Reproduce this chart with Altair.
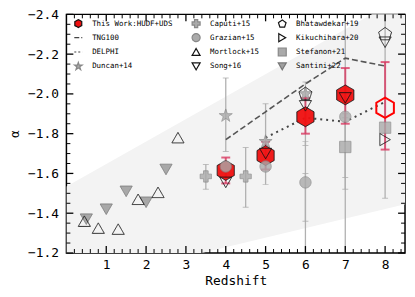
import altair as alt
import pandas as pd

W, H = 342, 241

X_DOMAIN = [0, 8.5]
Y_DOMAIN = [-2.4, -1.2]
X_MAJOR = [1, 2, 3, 4, 5, 6, 7, 8]
X_MINOR = [round(i * 0.2, 1) for i in range(1, 43) if i % 5 != 0]
Y_MAJOR = [-2.4, -2.2, -2.0, -1.8, -1.6, -1.4, -1.2]
Y_MINOR = [round(-2.4 + i * 0.05, 2) for i in range(1, 24) if i % 4 != 0]

# shaded model band (two straight edges)
band_z = [0.0, 8.5]
band_hi = [-1.534, -2.495]
band_lo = [-1.037, -1.445]

# model lines
tng_z = [4, 5, 6, 7, 8]
tng_a = [-1.77, -1.91, -2.05, -2.18, -2.14]
delphi_z = [5, 6, 7, 8]
delphi_a = [-1.78, -1.88, -1.86, -1.96]

# This work
tw_z = [4, 5, 6, 7]
tw_a = [-1.615, -1.69, -1.885, -1.995]
tw_lo = [-1.68, -1.76, -1.98, -2.13]
tw_hi = [-1.55, -1.62, -1.80, -1.85]
two_z = [8]
two_a = [-1.93]
two_lo = [-2.16]
two_hi = [-1.72]

# literature points
duncan_z = [4, 5, 6]
duncan_a = [-1.89, -1.76, -2.00]
caputi_z = [3.5, 4.5]
caputi_a = [-1.585, -1.585]
grazian_z = [4, 5, 6, 7]
grazian_a = [-1.635, -1.635, -1.555, -1.885]
mortlock_z = [0.45, 0.8, 1.3, 1.8, 2.3, 2.8]
mortlock_a = [-1.36, -1.325, -1.32, -1.47, -1.505, -1.78]
song_z = [4, 5, 6, 7, 8]
song_a = [-1.555, -1.70, -1.94, -1.98, -2.26]
bhat_z = [6, 8]
bhat_a = [-2.00, -2.30]
kiku_z = [8]
kiku_a = [-1.77]
stef_z = [7, 8]
stef_a = [-1.733, -1.83]
santini_z = [0.5, 1.0, 1.5, 2.0, 2.5]
santini_a = [-1.37, -1.42, -1.51, -1.455, -1.62]

# gray error bars (z, low, high)
gerr_z = [3.5, 4.0, 4.5, 5.0, 6.0, 6.0, 6.0, 7.0, 7.0, 7.0, 8.0]
gerr_lo = [-1.645, -2.08, -1.73, -1.95, -2.06, -1.76, -1.60, -2.60, -1.88, -1.90, -2.60]
gerr_hi = [-1.52, -1.71, -1.43, -1.545, -1.74, -1.36, -1.00, -1.00, -1.58, -1.52, -1.475]

HEX = "M0,-1L0.866,-0.5L0.866,0.5L0,1L-0.866,0.5L-0.866,-0.5Z"
PENT = "M0,-1L0.951,-0.309L0.588,0.809L-0.588,0.809L-0.951,-0.309Z"
STAR = ("M0,-1L0.2245,-0.309L0.951,-0.309L0.363,0.118L0.588,0.809L0,0.382"
        "L-0.588,0.809L-0.363,0.118L-0.951,-0.309L-0.2245,-0.309Z")

# legend entries, column by column
names = ["This Work:HUDF+UDS", "TNG100", "DELPHI", "Duncan+14",
         "Caputi+15", "Grazian+15", "Mortlock+15", "Song+16",
         "Bhatawdekar+19", "Kikuchihara+20", "Stefanon+21", "Santini+22"]
shapes = [HEX, "stroke", "stroke", STAR,
          "cross", "circle", "triangle-up", "triangle-down",
          PENT, "triangle-right", "square", "triangle-down"]
fills = ["#f01010", "transparent", "transparent", "#aaaaaa",
         "#aaaaaa", "#aaaaaa", "transparent", "transparent",
         "transparent", "transparent", "#aaaaaa", "#a0a0a0"]
strokes = ["#111111", "#444444", "#444444", "#888888",
           "#888888", "#888888", "#111111", "#111111",
           "#111111", "#111111", "#888888", "#777777"]
dashes = [[1, 0], [5, 2], [2, 2], [1, 0],
          [1, 0], [1, 0], [1, 0], [1, 0],
          [1, 0], [1, 0], [1, 0], [1, 0]]

MONO = "DejaVu Sans Mono"


def table(groups):
    rows = []
    for name, zs, als in groups:
        for z, a in zip(zs, als):
            rows.append({"series": name, "z": z, "a": a})
    return pd.DataFrame(rows)


xs = alt.Scale(domain=X_DOMAIN, nice=False, zero=False)
ys = alt.Scale(domain=Y_DOMAIN, reverse=True, nice=False, zero=False)


def X(f):
    return alt.X(f, scale=xs)


def Y(f):
    return alt.Y(f, scale=ys)


band_df = pd.DataFrame({"z": band_z, "hi": band_hi, "lo": band_lo})
band = alt.Chart(band_df).mark_area(color="#f3f3f3", clip=True).encode(
    x=alt.X("z:Q", scale=xs, axis=alt.Axis(values=X_MAJOR, format="d", ticks=False, domain=False,
                                           grid=False, labelPadding=6, title="Redshift", titlePadding=3)),
    y=alt.Y("hi:Q", scale=ys, axis=alt.Axis(values=Y_MAJOR, format=".1f", ticks=False, domain=False,
                                            grid=False, labelPadding=8, title="α", titlePadding=6)),
    y2="lo:Q",
)

gerr_df = pd.DataFrame({"z": gerr_z, "lo": gerr_lo, "hi": gerr_hi})
gbar = alt.Chart(gerr_df).mark_rule(color="#b0b0b0", strokeWidth=1.3, clip=True).encode(
    x=X("z:Q"), y=Y("lo:Q"), y2="hi:Q")
gcap_lo = alt.Chart(gerr_df).mark_tick(color="#a8a8a8", orient="horizontal", size=6, thickness=1, clip=True).encode(
    x=X("z:Q"), y=Y("lo:Q"))
gcap_hi = alt.Chart(gerr_df).mark_tick(color="#a8a8a8", orient="horizontal", size=6, thickness=1, clip=True).encode(
    x=X("z:Q"), y=Y("hi:Q"))

rerr_df = pd.DataFrame({"z": tw_z + two_z, "lo": tw_lo + two_lo, "hi": tw_hi + two_hi})
rbar = alt.Chart(rerr_df).mark_rule(color="#d83a62", strokeWidth=2, opacity=0.8).encode(
    x=X("z:Q"), y=Y("lo:Q"), y2="hi:Q")
rcap_lo = alt.Chart(rerr_df).mark_tick(color="#d83a62", orient="horizontal", size=9, thickness=2, opacity=0.8).encode(
    x=X("z:Q"), y=Y("lo:Q"))
rcap_hi = alt.Chart(rerr_df).mark_tick(color="#d83a62", orient="horizontal", size=9, thickness=2, opacity=0.8).encode(
    x=X("z:Q"), y=Y("hi:Q"))

tng = alt.Chart(pd.DataFrame({"z": tng_z, "a": tng_a})).mark_line(
    color="#555555", strokeWidth=1.6, strokeDash=[6, 3]).encode(x=X("z:Q"), y=Y("a:Q"))
delphi = alt.Chart(pd.DataFrame({"z": delphi_z, "a": delphi_a})).mark_line(
    color="#444444", strokeWidth=2, strokeDash=[2, 4]).encode(x=X("z:Q"), y=Y("a:Q"))

legend = alt.Legend(title=None, orient="none", legendX=7, legendY=4, columns=3,
                    labelFont=MONO, labelFontSize=7.5, labelColor="black",
                    symbolSize=65, rowPadding=0.5, columnPadding=16, labelOffset=9,
                    padding=0, labelLimit=300, symbolStrokeWidth=1.2)


def style(lg):
    return dict(
        shape=alt.Shape("series:N", scale=alt.Scale(domain=names, range=shapes), legend=lg),
        fill=alt.Fill("series:N", scale=alt.Scale(domain=names, range=fills), legend=lg),
        stroke=alt.Stroke("series:N", scale=alt.Scale(domain=names, range=strokes), legend=lg),
        strokeDash=alt.StrokeDash("series:N", scale=alt.Scale(domain=names, range=dashes), legend=lg),
    )


def pointlayer(df, size, opacity):
    return alt.Chart(df).mark_point(size=size, opacity=opacity, strokeWidth=1).encode(
        x=X("z:Q"), y=Y("a:Q"), **style(None))


# legend carrier: one entry per series, placed outside the axis range and clipped away
legend_df = pd.DataFrame({"series": names, "z": [-1.0] * len(names), "a": [-1.8] * len(names)})
legend_layer = alt.Chart(legend_df).mark_point(size=65, opacity=1, strokeWidth=1.2, clip=True).encode(
    x=X("z:Q"), y=Y("a:Q"), **style(legend))

hexes = pointlayer(table([("This Work:HUDF+UDS", tw_z, tw_a)]), 400, 0.95)
grays = pointlayer(table([("Grazian+15", grazian_z, grazian_a),
                          ("Caputi+15", caputi_z, caputi_a),
                          ("Stefanon+21", stef_z, stef_a)]), 130, 0.8)
stars = pointlayer(table([("Duncan+14", duncan_z, duncan_a)]), 190, 0.8)
tris = pointlayer(table([("Santini+22", santini_z, santini_a),
                         ("Mortlock+15", mortlock_z, mortlock_a),
                         ("Song+16", song_z, song_a),
                         ("Kikuchihara+20", kiku_z, kiku_a)]), 150, 0.9)
pents = pointlayer(table([("Bhatawdekar+19", bhat_z, bhat_a)]), 190, 0.9)

openhex = alt.Chart(pd.DataFrame({"z": two_z, "a": two_a})).mark_point(
    shape=HEX, size=420, stroke="#ff0000", strokeWidth=2, fill="transparent", opacity=1).encode(
    x=X("z:Q"), y=Y("a:Q"))

# inside ticks on all four sides
xt = pd.DataFrame({"v": X_MAJOR})
xm = pd.DataFrame({"v": X_MINOR})
yt = pd.DataFrame({"v": Y_MAJOR})
ym = pd.DataFrame({"v": Y_MINOR})


def xticks(df, length, width):
    b = alt.Chart(df).mark_rule(color="black", strokeWidth=width).encode(
        x=X("v:Q"), y=alt.value(H), y2=alt.value(H - length))
    t = alt.Chart(df).mark_rule(color="black", strokeWidth=width).encode(
        x=X("v:Q"), y=alt.value(0), y2=alt.value(length))
    return [b, t]


def yticks(df, length, width):
    l = alt.Chart(df).mark_rule(color="black", strokeWidth=width).encode(
        y=Y("v:Q"), x=alt.value(0), x2=alt.value(length))
    r = alt.Chart(df).mark_rule(color="black", strokeWidth=width).encode(
        y=Y("v:Q"), x=alt.value(W), x2=alt.value(W - length))
    return [l, r]


tick_layers = xticks(xt, 7, 1.3) + xticks(xm, 4, 1) + yticks(yt, 7, 1.3) + yticks(ym, 4, 1)

IND = dict(shape="independent", fill="independent", stroke="independent", strokeDash="independent")

chart = alt.layer(
    band, gbar, gcap_lo, gcap_hi, tng, delphi, rbar, rcap_lo, rcap_hi,
    hexes, grays, stars, tris, pents, openhex, legend_layer, *tick_layers
).resolve_scale(**IND).resolve_legend(**IND).properties(
    width=W, height=H,
    padding={"left": 59, "top": 5, "right": 2, "bottom": 40},
    autosize=alt.AutoSizeParams(type="none"),
).configure_view(stroke="black", strokeWidth=1.5).configure_axis(
    labelFont=MONO, labelFontSize=13, labelColor="black",
    titleFont=MONO, titleFontSize=13, titleFontWeight="normal", titleColor="black",
)

chart.save("out.html", embed_options={"renderer": "svg", "actions": False})
